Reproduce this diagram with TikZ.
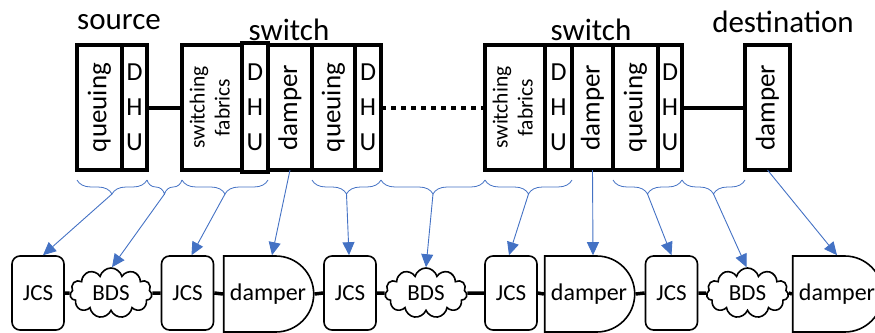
\documentclass[tikz,border=0pt]{standalone}
\usepackage{fontspec}
\setmainfont{Carlito}
\usetikzlibrary{arrows.meta,calc,decorations.pathreplacing,shapes.symbols,shapes.misc}
\definecolor{linkblue}{HTML}{4472C4}

\tikzset{
  part/.style={draw, line width=4pt, inner sep=0pt, outer sep=0pt, minimum height=125pt,
    font=\fontsize{27}{30}\selectfont},
  dhu/.style={part, align=center, font=\fontsize{26}{35}\selectfont},
  title/.style={inner sep=0pt, font=\fontsize{31}{34}\selectfont},
  jcs/.style={draw, line width=1.6pt, rounded corners=8pt, inner sep=0pt,
    minimum width=52pt, minimum height=74pt, font=\fontsize{23}{25}\selectfont},
  bds/.style={cloud, cloud puffs=11, cloud ignores aspect, draw, line width=1.6pt, inner sep=0pt,
    minimum width=82pt, minimum height=50pt, font=\fontsize{23}{25}\selectfont},
  dmp/.style={rounded rectangle, rounded rectangle left arc=none, draw, line width=1.6pt,
    inner sep=0pt, minimum width=90pt, minimum height=76pt, font=\fontsize{24}{26}\selectfont},
  brc/.style={draw=linkblue, line width=0.8pt, decorate, decoration={brace, mirror, amplitude=14pt}},
  arr/.style={draw=linkblue, line width=0.9pt, -{Triangle[length=13pt,width=12pt]}},
  link/.style={line width=3.5pt},
}

\begin{document}
\begin{tikzpicture}[x=1pt, y=-1pt]
    \useasboundingbox (0,0) rectangle (875,332);

    % Titles
    \node[title] (tsrc) at (119,22) {source};
    \node[title] (tsw1) at (289,30) {switch};
    \node[title] (tsw2) at (591,30) {switch};
    \node[title] (tdst) at (783,22) {destination};

    % Source
    \node[part, minimum width=45pt] (srcq) at (99.5,107.5) {\rotatebox{90}{queuing}};
    \node[dhu, minimum width=25pt] (srcd) at (134.5,107.5) {D\\H\\U};

    % First switch
    \node[part, minimum width=60pt, font=\fontsize{21.5}{25}\selectfont] (sw1f) at (212,107.5)
        {\rotatebox{90}{\begin{tabular}{@{}c@{}}switching\\fabrics\end{tabular}}};
    \node[dhu, minimum width=26pt, minimum height=129pt] (sw1d) at (255,107.5) {D\\H\\U};
    \node[part, minimum width=44pt] (sw1p) at (290,107.5) {\rotatebox{90}{damper}};
    \node[part, minimum width=43pt] (sw1q) at (333.5,107.5) {\rotatebox{90}{queuing}};
    \node[dhu, minimum width=26pt] (sw1h) at (368,107.5) {D\\H\\U};

    % Second switch
    \node[part, minimum width=60pt, font=\fontsize{21.5}{25}\selectfont] (sw2f) at (515,107.5)
        {\rotatebox{90}{\begin{tabular}{@{}c@{}}switching\\fabrics\end{tabular}}};
    \node[dhu, minimum width=27pt] (sw2d) at (558.5,107.5) {D\\H\\U};
    \node[part, minimum width=41pt] (sw2p) at (592.5,107.5) {\rotatebox{90}{damper}};
    \node[part, minimum width=45pt] (sw2q) at (635.5,107.5) {\rotatebox{90}{queuing}};
    \node[dhu, minimum width=24pt] (sw2h) at (670,107.5) {D\\H\\U};

    % Destination
    \node[part, minimum width=45pt] (dstp) at (767.5,107.5) {\rotatebox{90}{damper}};

    % Links between devices
    \draw[link, line width=4pt] (srcd.east) -- (sw1f.west);
    \draw[link, line width=4pt, dash pattern=on 5pt off 5pt] (sw1h.east) -- (sw2f.west);
    \draw[link, line width=4pt] (sw2h.east) -- (dstp.west);

    % Bottom chain
    \node[jcs] (jcs1) at (38,293) {JCS};
    \node[bds] (bds1) at (111,293) {BDS};
    \node[jcs] (jcs2) at (187.5,293) {JCS};
    \node[dmp] (dmp1) at (268,294) {damper};
    \node[jcs] (jcs3) at (350,293) {JCS};
    \node[bds] (bds2) at (426,293) {BDS};
    \node[jcs] (jcs4) at (511,293) {JCS};
    \node[dmp] (dmp2) at (589,294) {damper};
    \node[jcs] (jcs5) at (671.5,293) {JCS};
    \node[bds] (bds3) at (747.5,293) {BDS};
    \node[dmp] (dmp3) at (837,294) {damper};

    \foreach \a/\b in {jcs1/bds1, bds1/jcs2, jcs2/dmp1, dmp1/jcs3, jcs3/bds2,
                       bds2/jcs4, jcs4/dmp2, dmp2/jcs5, jcs5/bds3, bds3/dmp3}
        \draw[link] (\a.east) -- (\b.west);

    % Braces under the boxes
    \coordinate (brl) at (0,180);
    \foreach \a/\b/\n in {srcq.south west/srcd.south east/b1, srcd.south east/sw1f.south west/b2,
                          sw1f.south west/sw1d.south east/b3, sw1q.south west/sw1h.south east/b5,
                          sw1h.south east/sw2f.south west/b6, sw2f.south west/sw2d.south east/b7,
                          sw2q.south west/sw2h.south east/b9, sw2h.south east/dstp.south west/b10} {
        \draw[brc] (\a |- brl) -- (\b |- brl);
        \coordinate (\n) at ($(\a |- brl)!0.5!(\b |- brl) + (0,14)$);
    }

    % Arrows down to the chain
    \foreach \s/\t/\dx in {b1/jcs1/5, b2/bds1/1, b3/jcs2/4, sw1p.south/dmp1/4, b5/jcs3/-1,
                           b6/bds2/0, b7/jcs4/-2, sw2p.south/dmp2/4, b9/jcs5/0, b10/bds3/-1,
                           dstp.south/dmp3/0}
        \draw[arr] (\s) -- ([xshift=\dx pt]\t.north);
\end{tikzpicture}
\end{document}
